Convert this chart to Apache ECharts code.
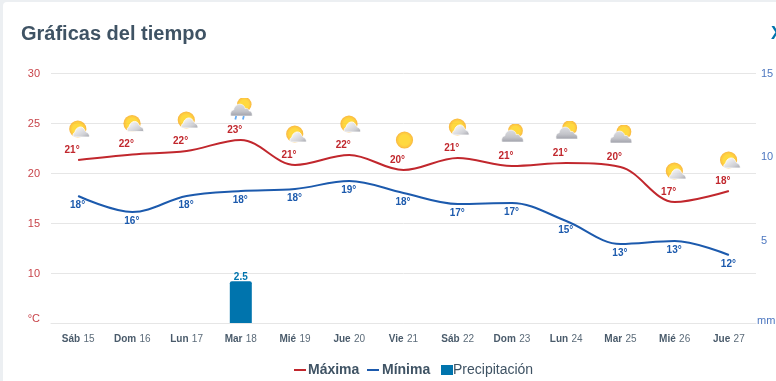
<!DOCTYPE html>
<html>
<head>
<meta charset="utf-8">
<title>Gráficas del tiempo</title>
<script src="https://cdn.jsdelivr.net/npm/echarts@6/dist/echarts.min.js"></script>
<style>
  html, body { margin: 0; padding: 0; background: #eceff2; overflow: hidden; }
  .card { position: absolute; left: 3px; top: 2px; width: 773px; height: 379px; background: #fff; border-radius: 4px 0 0 0; }
  #chart { position: absolute; left: 0; top: 0; width: 776px; height: 381px; }
</style>
</head>
<body>
<div class="card"></div>
<div id="chart"></div>
<script>
var days = ['Sáb 15', 'Dom 16', 'Lun 17', 'Mar 18', 'Mié 19', 'Jue 20', 'Vie 21', 'Sáb 22', 'Dom 23', 'Lun 24', 'Mar 25', 'Mié 26', 'Jue 27']
var maxTemp = [21.3, 21.85, 22.2, 23.3, 20.8, 21.8, 20.3, 21.5, 20.7, 21, 20.6, 17.1, 18.2]
var minTemp = [17.7, 16.1, 17.7, 18.2, 18.4, 19.2, 18, 16.9, 17, 15.2, 12.9, 13.2, 11.8]
var maxLabels = ['21°', '22°', '22°', '23°', '21°', '22°', '20°', '21°', '21°', '21°', '20°', '17°', '18°']
var minLabels = ['18°', '16°', '18°', '18°', '18°', '19°', '18°', '17°', '17°', '15°', '13°', '13°', '12°']
var rain = [null, null, null, 2.5, null, null, null, null, null, null, null, null, null]
var sky = ['sunCloud', 'sunCloud', 'sunCloud', 'rain', 'sunCloud', 'sunCloud', 'sun', 'sunCloud', 'cloudSun', 'cloudSun', 'cloudSun', 'sunCloud', 'sunCloud']

var font = '"Liberation Sans", Arial, sans-serif'
var red = '#c1272d'
var blue = '#1c5aad'
var barBlue = '#0074ad'
var slate = '#3f5364'

// little svg weather icons, used as scatter symbols
var bigCloud = 'M1 18c-.8-3.2 .4-5.8 3-6.2c.2-4 5-7.2 8.6-5c1.6 .8 2.4 2.2 2.6 3.8c2.4-.6 3.8 .4 4.2 2.4c2.2 0 3.2 1.6 3 5z'
var defs = '<defs>' +
  '<radialGradient id="s"><stop offset="0.6" stop-color="#ffd010"/><stop offset="0.85" stop-color="#fdb813"/><stop offset="1" stop-color="#f5a20c"/></radialGradient>' +
  '<linearGradient id="c" x1="0" y1="0" x2="0" y2="1"><stop offset="0" stop-color="#d4d5da"/><stop offset="0.6" stop-color="#b4b5bd"/><stop offset="1" stop-color="#8a8c96"/></linearGradient>' +
  '<linearGradient id="l" x1="0" y1="0" x2="1" y2="1"><stop offset="0.2" stop-color="#eeeef1"/><stop offset="0.7" stop-color="#c4c5cb"/><stop offset="1" stop-color="#8f919a"/></linearGradient>' +
  '</defs>'
var icons = {
  sun: '<circle cx="12" cy="12" r="8.6" fill="url(#s)"/>',
  sunCloud: '<circle cx="10.7" cy="11" r="8.6" fill="url(#s)"/>' +
    '<path d="M7 19c-1.8-1-1.4-4 .8-4.6c.4-5 6.8-7.8 9.4-3c.6 1.6 1.2 2.2 2.4 2.8c2 .8 2.8 2.4 2.8 4.8z" fill="url(#l)" stroke="#fff" stroke-width=".8"/>',
  cloudSun: '<circle cx="14.5" cy="6.8" r="7.4" fill="url(#s)"/>' +
    '<path d="' + bigCloud + '" fill="url(#c)" stroke="#fff" stroke-width=".6"/>',
  rain: '<circle cx="14.5" cy="6.3" r="7.2" fill="url(#s)"/>' +
    '<path d="' + bigCloud + '" fill="url(#c)" stroke="#fff" stroke-width=".6"/>' +
    '<path d="M6.4 18l-.9 3.4M14 18l-.9 3.4" stroke="#3f97f0" stroke-width="1.8" fill="none"/>'
}
function iconUrl(kind) {
  var svg = '<svg xmlns="http://www.w3.org/2000/svg" width="48" height="48" viewBox="0 0 24 24">' + defs + icons[kind] + '</svg>'
  return 'image://data:image/svg+xml;charset=utf-8,' + encodeURIComponent(svg)
}

function legendItem(left, name, icon, textStyle) {
  return {
    top: 358,
    left: left,
    itemWidth: 12,
    itemHeight: 10,
    selectedMode: false,
    data: [{ name: name, icon: icon, textStyle: textStyle }]
  }
}

var chart = echarts.init(document.getElementById('chart'))
chart.setOption({
  animation: false,
  textStyle: { fontFamily: font },
  title: {
    text: 'Gráficas del tiempo',
    left: 16,
    top: 19,
    textStyle: { fontFamily: font, fontSize: 20, fontWeight: 'bold', color: slate }
  },
  graphic: [{
    type: 'text',
    left: 771,
    top: 25,
    style: { text: 'X', font: 'bold 18px ' + font, fill: barBlue }
  }],
  grid: { left: 51, right: 20, top: 73, bottom: 58, outerBoundsMode: 'none' },
  legend: [
    legendItem(289, 'Máxima', 'path://M0 0H12V2H0Z', { fontWeight: 'bold', fontSize: 14, color: slate, padding: [0, 0, 0, -3] }),
    legendItem(362, 'Mínima', 'path://M0 0H12V2H0Z', { fontWeight: 'bold', fontSize: 14, color: slate, padding: [0, 0, 0, -2] }),
    legendItem(436, 'Precipitación', 'rect', { fontSize: 14, color: slate, padding: [0, 0, 0, -5] })
  ],
  xAxis: {
    type: 'category',
    data: days,
    axisLine: { lineStyle: { color: '#e6e6e6' } },
    axisTick: { alignWithLabel: true, length: 10, lineStyle: { color: '#e6e6e6' } },
    axisLabel: {
      margin: 10,
      interval: 0,
      formatter: function(value) {
        var parts = value.split(' ')
        return '{d|' + parts[0] + '} {n|' + parts[1] + '}'
      },
      rich: {
        d: { fontSize: 10, fontWeight: 'bold', color: '#4a5b6b', fontFamily: font },
        n: { fontSize: 10, color: '#5b6b79', fontFamily: font }
      }
    }
  },
  yAxis: [
    {
      type: 'value',
      min: 5,
      max: 30,
      interval: 5,
      axisLine: { show: false },
      axisTick: { show: false },
      splitLine: { lineStyle: { color: '#e6e6e6' } },
      axisLabel: {
        margin: 11,
        fontSize: 11,
        padding: [2, 0, 0, 0],
        color: '#c8444a',
        formatter: function(value) {
          return value === 5 ? '{u|°C}' : String(value)
        },
        rich: { u: { fontSize: 11, color: '#c8444a', fontFamily: font, padding: [0, 0, 10, 0] } }
      }
    },
    {
      type: 'value',
      min: 0,
      max: 15,
      interval: 5,
      axisLine: { show: false },
      axisTick: { show: false },
      splitLine: { show: false },
      axisLabel: {
        margin: 5,
        fontSize: 11,
        padding: [2, 0, 0, 0],
        color: '#4d77c0',
        formatter: function(value) {
          return value === 0 ? '{u|mm}' : String(value)
        },
        rich: { u: { fontSize: 11, color: '#4d77c0', fontFamily: font, padding: [0, 0, 6, -4] } }
      }
    }
  ],
  series: [
    {
      name: 'Precipitación',
      type: 'bar',
      yAxisIndex: 1,
      data: rain,
      barWidth: 22,
      itemStyle: { color: barBlue, borderRadius: [2, 2, 0, 0] },
      label: { show: true, position: 'top', distance: -1, fontSize: 10, fontWeight: 'bold', color: barBlue }
    },
    {
      name: 'Máxima',
      type: 'line',
      data: maxTemp,
      smooth: 0.35,
      symbol: 'circle',
      symbolSize: 0,
      lineStyle: { color: red, width: 2 },
      itemStyle: { color: red },
      label: {
        show: true,
        position: 'top',
        distance: 5,
        offset: [-6, 0],
        fontSize: 10,
        color: red,
        fontWeight: 'bold',
        formatter: function(p) { return maxLabels[p.dataIndex] }
      }
    },
    {
      name: 'Mínima',
      type: 'line',
      data: minTemp,
      smooth: 0.35,
      symbol: 'circle',
      symbolSize: 0,
      lineStyle: { color: blue, width: 2 },
      itemStyle: { color: blue },
      label: {
        show: true,
        position: 'bottom',
        distance: 4,
        offset: [-0.5, 0],
        fontSize: 10,
        fontWeight: 'bold',
        color: blue,
        formatter: function(p) { return minLabels[p.dataIndex] }
      }
    },
    {
      name: 'Cielo',
      type: 'scatter',
      data: maxTemp.map(function(v, i) {
        return { value: v, symbol: iconUrl(sky[i]) }
      }),
      symbolSize: 24,
      symbolOffset: [1, -30],
      silent: true
    }
  ]
})
</script>
</body>
</html>
